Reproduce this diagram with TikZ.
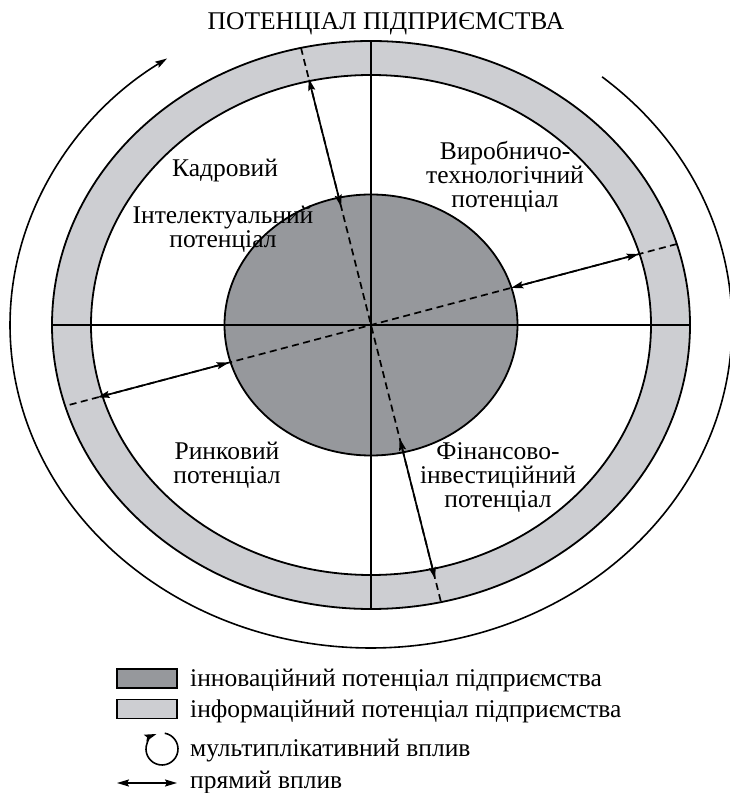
\documentclass[tikz,border=0pt]{standalone}
\usepackage{fontspec}
\setmainfont{Liberation Serif}
\usetikzlibrary{calc,arrows.meta}
\definecolor{ringgray}{HTML}{CDCED2}
\definecolor{coregray}{HTML}{96989C}
\begin{document}
\begin{tikzpicture}[x=1pt,y=1pt,
  ln/.style={line width=1.8pt, draw=black},
  tip/.style={line width=1.7pt, {Stealth[length=12pt,width=7pt,inset=2pt]}-{Stealth[length=12pt,width=7pt,inset=2pt]}},
  onetip/.style={line width=1.6pt, -{Stealth[length=12pt,width=7pt,inset=2pt]}},
  dsh/.style={line width=1.7pt, dash pattern=on 7pt off 4.5pt},
  lbl/.style={font=\fontsize{25.5}{24}\selectfont, align=center, inner sep=0pt},
  legbox/.style={draw=black, line width=1.6pt, minimum width=60pt, minimum height=19pt, inner sep=0pt},
  legtext/.style={font=\fontsize{25.5}{24}\selectfont, inner sep=0pt, anchor=base west}]
\useasboundingbox (0,0) rectangle (730,793);
\fill[white] (0,0) rectangle (730,793);
\coordinate (c) at (371,468);
% rings
\draw[ln, fill=ringgray] (c) ellipse[x radius=319, y radius=284];
\draw[ln, fill=white] (c) ellipse[x radius=280, y radius=250];
\draw[ln, fill=coregray] (c) ellipse[x radius=146.5, y radius=130.5];
% cross
\coordinate (top) at ($(c)+(0,284)$);
\coordinate (bot) at ($(c)+(0,-284)$);
\coordinate (lft) at ($(c)+(-319,0)$);
\coordinate (rgt) at ($(c)+(319,0)$);
\draw[ln] (top) -- (bot);
\draw[ln] (lft) -- (rgt);
% dashed axes
\coordinate (d1a) at ($(c)+(104.18:285.8)$);
\coordinate (d1b) at ($(c)+(284.18:285.8)$);
\coordinate (d2a) at ($(c)+(14.83:316.3)$);
\coordinate (d2b) at ($(c)+(194.83:316.3)$);
\draw[dsh] (d1a) -- (d1b);
\draw[dsh] (d2a) -- (d2b);
% direct influence arrows
\coordinate (a1i) at ($(c)+(104.18:122)$);
\coordinate (a1o) at ($(c)+(104.18:254)$);
\coordinate (a2i) at ($(c)+(284.18:117)$);
\coordinate (a2o) at ($(c)+(284.18:262)$);
\coordinate (a3i) at ($(c)+(14.83:145)$);
\coordinate (a3o) at ($(c)+(14.83:277)$);
\coordinate (a4i) at ($(c)+(194.83:147)$);
\coordinate (a4o) at ($(c)+(194.83:283)$);
\draw[tip] (a1i) -- (a1o);
\draw[tip] (a2i) -- (a2o);
\draw[tip] (a3i) -- (a3o);
\draw[tip] (a4i) -- (a4o);
% multiplicative arc
\coordinate (ms) at ($(c)+(50.2:361 and 323)$);
\draw[onetip] (ms) arc[start angle=50.2, end angle=-235.6, x radius=361, y radius=323];
% labels
\node[lbl, anchor=base] (title) at (386,763.7) {ПОТЕНЦІАЛ ПІДПРИЄМСТВА};
\node[lbl, anchor=base] (kadr) at (225,616) {Кадровий};
\node[lbl] (intel) at (223,564) {Інтелектуальний\\потенціал};
\node[lbl] (vyrob) at (505,616.5) {Виробничо-\\технологічний\\потенціал};
\node[lbl] (rynok) at (227,327.5) {Ринковий\\потенціал};
\node[lbl] (fin) at (498,315.5) {Фінансово-\\інвестиційний\\потенціал};
% legend
\node[legbox, fill=coregray] (lb1) at (147,114.5) {};
\node[legtext] (lt1) at (190,106) {інноваційний потенціал підприємства};
\node[legbox, fill=ringgray] (lb2) at (147,84) {};
\node[legtext] (lt2) at (190,75) {інформаційний потенціал підприємства};
\coordinate (ic) at (162,44);
\draw[onetip] ($(ic)+(80:16)$) arc[start angle=80, end angle=-250, radius=16];
\node[legtext] (lt3) at (190,36) {мультиплікативний вплив};
\coordinate (la) at (117,10);
\coordinate (lb) at (177,10);
\draw[tip] (la) -- (lb);
\node[legtext] (lt4) at (190,5) {прямий вплив};
\end{tikzpicture}
\end{document}
